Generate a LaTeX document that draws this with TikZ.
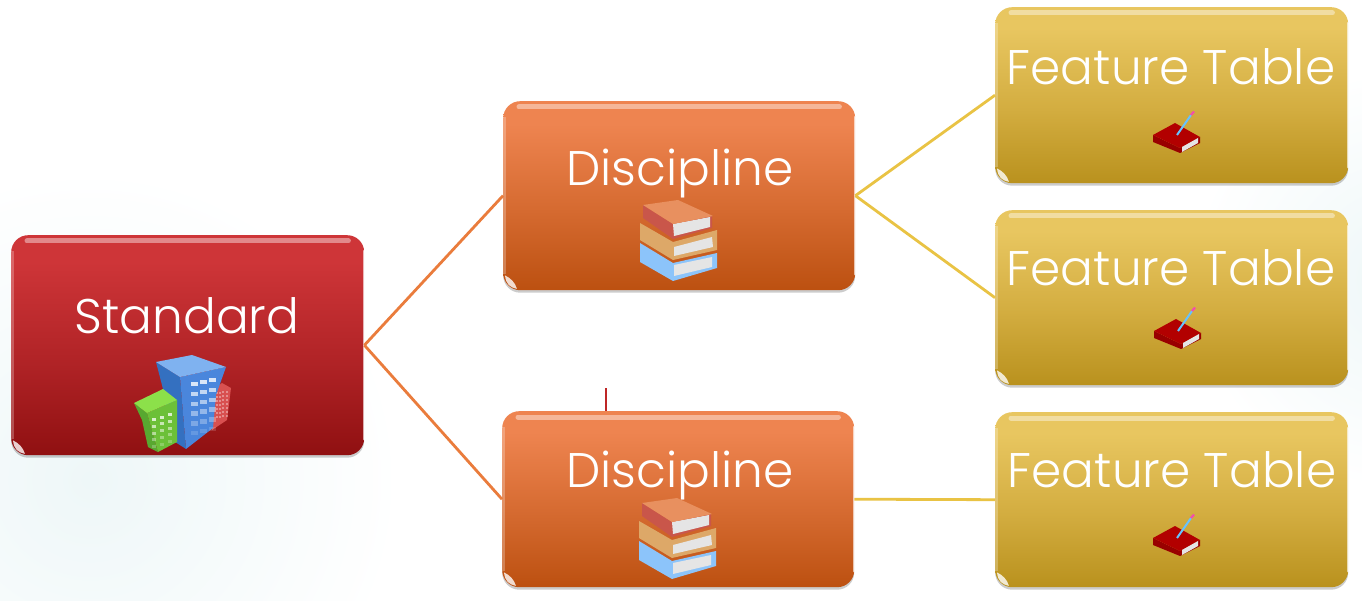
\documentclass[tikz,border=0pt]{standalone}
\usepackage{fontspec}
\setmainfont{Poppins Light}
\usetikzlibrary{calc,shadows}
\definecolor{redT}{HTML}{CE3538}\definecolor{redM}{HTML}{B02326}\definecolor{redB}{HTML}{8E0F10}
\definecolor{oraT}{HTML}{EE8450}\definecolor{oraM}{HTML}{D56A30}\definecolor{oraB}{HTML}{BB4F0F}
\definecolor{golT}{HTML}{E8C660}\definecolor{golM}{HTML}{D3AD40}\definecolor{golB}{HTML}{B8901C}
\definecolor{lineO}{HTML}{EA7C3C}\definecolor{lineG}{HTML}{E9C344}
\definecolor{glow}{HTML}{EEF7F8}
\definecolor{bkTop}{HTML}{E8905F}\definecolor{bkSpine}{HTML}{C9564A}\definecolor{bkTan}{HTML}{DDA868}\definecolor{bkBlue}{HTML}{8CC4FA}
\definecolor{ctTop}{HTML}{7FB2F0}\definecolor{ctRight}{HTML}{4A86DC}\definecolor{ctLeft}{HTML}{3470C0}
\definecolor{grTop}{HTML}{8CE04A}\definecolor{grRight}{HTML}{6CC038}\definecolor{grLeft}{HTML}{58A830}
\definecolor{ctRed}{HTML}{D85050}
\pgfdeclareverticalshading{redsh}{100bp}{color(0bp)=(redB);color(24bp)=(redB);color(46bp)=(redM);color(69bp)=(redT);color(100bp)=(redT)}
\pgfdeclareverticalshading{orash}{100bp}{color(0bp)=(oraB);color(24bp)=(oraB);color(46bp)=(oraM);color(69bp)=(oraT);color(100bp)=(oraT)}
\pgfdeclareverticalshading{golsh}{100bp}{color(0bp)=(golB);color(24bp)=(golB);color(46bp)=(golM);color(69bp)=(golT);color(100bp)=(golT)}
\tikzset{
  card/.style={rectangle,rounded corners=17pt,inner sep=0pt,anchor=north west,
     drop shadow={shadow xshift=0pt,shadow yshift=-2.5pt,opacity=.2,fill=black}},
  redcard/.style={card,shading=redsh,shading angle=0},
  oracard/.style={card,shading=orash,shading angle=0},
  golcard/.style={card,shading=golsh,shading angle=0},
  lab/.style={text=white,font=\fontsize{48.6}{48.6}\selectfont,inner sep=0pt,anchor=base},
  link/.style={line width=2.8pt},
  sheen/.style={line cap=round,white,opacity=.42,line width=5pt},
  edgeglint/.style={white,opacity=.65,line width=2pt,line cap=round},
  glint/.style={fill=white,opacity=.8},
  page/.style={fill=white!90!black,draw=none}
}
% x1 y1 x2 y2 name style
\newcommand{\cardbox}[6]{%
  \pgfmathsetmacro{\cw}{#3-#1}\pgfmathsetmacro{\ch}{#4-#2}%
  \node[#6,minimum width=\cw pt,minimum height=\ch pt] (#5) at (#1,#2) {};
  \draw[sheen] ($(#5.north west)+(16,6)$) -- ($(#5.north east)+(-16,6)$);
  \draw[edgeglint] ($(#5.north east)+(-.5,16)$) -- ($(#5.south east)+(-.5,-16)$);
  \draw[white,opacity=.25,line width=2.4pt] ($(#5.north west)+(1.5,16)$) -- ($(#5.south west)+(1.5,-16)$);
  \fill[glint] ($(#5.south west)+(2,-15)$) .. controls ($(#5.south west)+(3,-6)$) and ($(#5.south west)+(7,-3)$) .. ($(#5.south west)+(14,-1.5)$)
     .. controls ($(#5.south west)+(12,-8)$) and ($(#5.south west)+(8,-12)$) .. cycle;
}
\newcommand{\cityicon}{%
  \fill[ctRed] (213,390)--(222,383)--(231,388)--(227,420)--(212,430)--cycle;
  \foreach \c in {0,1,2,3}\foreach \r in {0,...,6}
    \fill[white,opacity=.35] ({216+\c*3.2},{392+\r*4-\c*.5}) rectangle +(2,2.2);
  \fill[ctLeft] (156,362)--(180,377)--(186,449)--(172,440)--(163,389)--cycle;
  \fill[ctRight] (180,377)--(226,367)--(216,395)--(213,428)--(186,449)--cycle;
  \fill[ctTop] (156,362)--(192,355)--(226,367)--(180,377)--cycle;
  \foreach \c in {0,1,2}\foreach \r in {0,...,5}
    \fill[white,opacity={.8-.13*\r}] ({191+\c*9.2},{382+\r*9.8-\c*2}) rectangle +(6.5,4.4);
  \fill[grLeft] (134,403)--(147,413)--(158,452)--(148,447)--(142,420)--cycle;
  \fill[grRight] (147,413)--(177,400)--(177,442)--(158,452)--cycle;
  \fill[grTop] (134,403)--(163,389)--(177,400)--(147,413)--cycle;
  \foreach \c in {0,1,2}\foreach \r in {0,...,4}
    \fill[white,opacity={.75-.13*\r}] ({152+\c*8},{418+\r*6.8-\c*2.5}) rectangle +(4.2,3);
}
\newcommand{\booksicon}[2]{%
  \begin{scope}[shift={(#1,#2)}]
  \fill[bkBlue] (640,243)--(640,262)--(673,281)--(717,268)--(717,253)--(673,263)--cycle;
  \fill[page] (674,265)--(712,257)--(712,267)--(674,276)--cycle;
  \fill[bkTan] (640,223)--(640,240)--(673,260)--(717,250)--(717,230)--(673,242)--cycle;
  \fill[page] (674,247)--(712,237)--(713,247)--(674,256)--cycle;
  \fill[bkSpine] (643,205)--(643,218)--(673,239)--(712,228)--(712,216)--(673,224)--cycle;
  \fill[page] (673,224)--(710,217)--(710,227)--(674,236)--cycle;
  \fill[bkTop] (643,205)--(678,200)--(713,216)--(673,224)--cycle;
  \end{scope}
}
\newcommand{\noteicon}[2]{%
  \begin{scope}[shift={(#1,#2)}]
  \fill[red!60!black] (1153,135)--(1153,142)--(1180,153)--(1200,143)--(1200,137)--(1180,148)--cycle;
  \fill[red!70!black] (1153,135)--(1175,123)--(1200,137)--(1180,148)--cycle;
  \fill[page] (1182,147)--(1198,138)--(1198,143)--(1182,152)--cycle;
  \draw[blue!40!cyan!60!white,line width=2pt] (1177,135)--(1191,115);
  \draw[magenta!70!white,line width=2.2pt] (1191,115)--(1194,111.5);
  \end{scope}
}
\begin{document}
\begin{tikzpicture}[x=1pt,y=-1pt]
\useasboundingbox (0,0) rectangle (1362,601);
\fill[white] (0,0) rectangle (1362,601);
\begin{scope}
  \clip (0,0) rectangle (1362,601);
  \shade[inner color=glow,outer color=white] (90,480) circle (310);
  \shade[inner color=glow,outer color=white] (1400,280) circle (210);
\end{scope}
\cardbox{11}{235}{364}{455}{std}{redcard}
\cardbox{503}{101}{855}{290}{dis1}{oracard}
\cardbox{502}{411}{854}{587}{dis2}{oracard}
\cardbox{995}{7}{1348}{183}{fea1}{golcard}
\cardbox{995}{210}{1348}{385}{fea2}{golcard}
\cardbox{995}{412}{1348}{587}{fea3}{golcard}
\draw[link,lineO] (std.east) -- (dis1.west);
\draw[link,lineO] (std.east) -- (dis2.west);
\draw[link,lineG] (dis1.east) -- (fea1.west);
\draw[link,lineG] (dis1.east) -- (fea2.west);
\draw[link,lineG] (dis2.east) -- (fea3.west);
\coordinate (tick) at (606,388);
\draw[red!70!black!85!white,line width=1.4pt] (tick) -- (tick |- dis2.north);
\node[lab] (stdl) at (187,333.5) {Standard};
\node[lab] (dis1l) at (680,185.5) {Discipline};
\node[lab] (dis2l) at (680,487.5) {Discipline};
\node[lab] (fea1l) at (1171,84.5) {Feature Table};
\node[lab] (fea2l) at (1171,285.5) {Feature Table};
\node[lab] (fea3l) at (1172,487.5) {Feature Table};
\cityicon
\booksicon{0}{0}
\booksicon{-1}{298}
\noteicon{0}{0}
\noteicon{1}{196}
\noteicon{0}{403}
\end{tikzpicture}
\end{document}
